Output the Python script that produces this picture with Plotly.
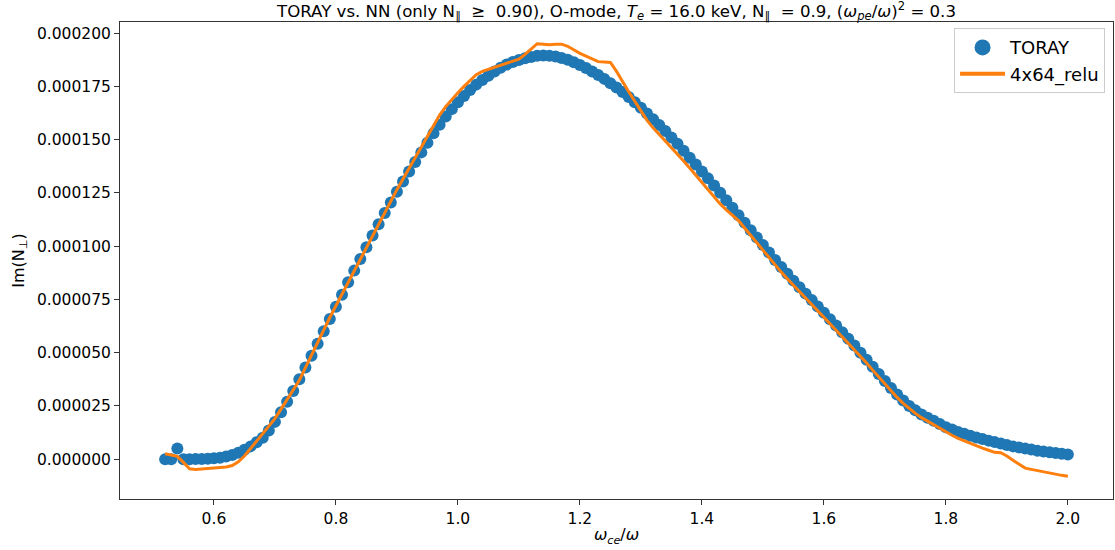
import numpy as np
import plotly.graph_objects as go

# omega_ce/omega grid (0.52 .. 2.00, step 0.01)
x_vals = np.round(0.52 + 0.01 * np.arange(149), 2)

# Im(N_perp) in units of 1e-5
toray_e5 = [
    0.0, 0.0, 0.5, 0.0, 0.0, 0.01, 0.01, 0.02,                      # 0.52-0.59
    0.04, 0.07, 0.12, 0.2, 0.3, 0.44, 0.6, 0.79, 1.0, 1.35,         # 0.60-0.69
    1.75, 2.2, 2.7, 3.2, 3.75, 4.3, 4.85, 5.42, 6.0, 6.58,          # 0.70-0.79
    7.15, 7.72, 8.3, 8.85, 9.4, 9.95, 10.5, 11.03, 11.55, 12.05,    # 0.80-0.89
    12.55, 13.03, 13.5, 13.95, 14.4, 14.85, 15.3, 15.7, 16.08, 16.43,  # 0.90-0.99
    16.75, 17.05, 17.33, 17.58, 17.8, 18.0, 18.2, 18.37, 18.52, 18.64,  # 1.00-1.09
    18.74, 18.82, 18.88, 18.93, 18.95, 18.94, 18.9, 18.83, 18.75, 18.63,  # 1.10-1.19
    18.5, 18.36, 18.2, 18.03, 17.85, 17.65, 17.45, 17.23, 17.0, 16.75,  # 1.20-1.29
    16.5, 16.23, 15.95, 15.68, 15.4, 15.1, 14.8, 14.48, 14.15, 13.83,   # 1.30-1.39
    13.5, 13.18, 12.85, 12.5, 12.15, 11.8, 11.45, 11.1, 10.75, 10.4,    # 1.40-1.49
    10.05, 9.7, 9.35, 9.02, 8.7, 8.38, 8.07, 7.77, 7.47, 7.17,          # 1.50-1.59
    6.87, 6.57, 6.27, 5.96, 5.65, 5.33, 5.0, 4.67, 4.34, 4.0,           # 1.60-1.69
    3.67, 3.34, 3.03, 2.75, 2.5, 2.29, 2.1, 1.94, 1.8, 1.65,            # 1.70-1.79
    1.5, 1.39, 1.28, 1.19, 1.1, 1.02, 0.95, 0.87, 0.8, 0.73,            # 1.80-1.89
    0.66, 0.6, 0.55, 0.5, 0.45, 0.4, 0.36, 0.32, 0.29, 0.25,            # 1.90-1.99
    0.22,                                                               # 2.00
]

nn_e5 = [
    0.25, 0.2, 0.13, -0.15, -0.45, -0.48, -0.46, -0.44,                 # 0.52-0.59
    -0.42, -0.4, -0.37, -0.3, -0.12, 0.15, 0.5, 0.85, 1.2, 1.55,        # 0.60-0.69
    1.9, 2.35, 2.8, 3.25, 3.7, 4.3, 4.9, 5.5, 6.08, 6.65,               # 0.70-0.79
    7.2, 7.75, 8.3, 8.85, 9.4, 9.95, 10.5, 11.05, 11.6, 12.15,          # 0.80-0.89
    12.65, 13.15, 13.65, 14.15, 14.7, 15.2, 15.7, 16.15, 16.55, 16.9,   # 0.90-0.99
    17.2, 17.5, 17.8, 18.05, 18.2, 18.3, 18.4, 18.5, 18.6, 18.7,        # 1.00-1.09
    18.78, 19.0, 19.25, 19.5, 19.48, 19.45, 19.47, 19.48, 19.38, 19.2,  # 1.10-1.19
    19.05, 18.92, 18.78, 18.66, 18.64, 18.62, 18.2, 17.7, 17.25, 16.8,  # 1.20-1.29
    16.35, 15.9, 15.55, 15.25, 14.95, 14.65, 14.33, 14.0, 13.67, 13.33, # 1.30-1.39
    13.0, 12.65, 12.3, 11.98, 11.7, 11.45, 11.2, 10.85, 10.5, 10.15,    # 1.40-1.49
    9.8, 9.45, 9.1, 8.78, 8.47, 8.16, 7.86, 7.56, 7.26, 6.96,           # 1.50-1.59
    6.66, 6.36, 6.06, 5.76, 5.46, 5.15, 4.83, 4.51, 4.18, 3.85,         # 1.60-1.69
    3.52, 3.2, 2.9, 2.62, 2.38, 2.15, 1.95, 1.78, 1.6, 1.43,            # 1.70-1.79
    1.27, 1.12, 0.98, 0.86, 0.74, 0.63, 0.52, 0.42, 0.32, 0.3,          # 1.80-1.89
    0.15, -0.05, -0.25, -0.42, -0.48, -0.54, -0.6, -0.66, -0.71, -0.76, # 1.90-1.99
    -0.8,                                                               # 2.00
]

SCALE = 1e-5
toray = np.array(toray_e5) * SCALE
nn = np.array(nn_e5) * SCALE

x_ticks = [0.6, 0.8, 1.0, 1.2, 1.4, 1.6, 1.8, 2.0]
y_ticks = [0.0, 0.000025, 0.00005, 0.000075, 0.0001, 0.000125, 0.00015, 0.000175, 0.0002]

FONT = "DejaVu Sans"
BLUE = "#1f77b4"
ORANGE = "#ff7f0e"

fig = go.Figure()
fig.add_trace(go.Scatter(
    x=x_vals, y=toray, mode="markers", name="TORAY", showlegend=False,
    marker=dict(color=BLUE, size=12, line=dict(width=0)),
))
fig.add_trace(go.Scatter(
    x=x_vals, y=nn, mode="lines", name="4x64_relu", showlegend=False,
    line=dict(color=ORANGE, width=3),
))
# legend entries (larger legend marker, as in the reference)
fig.add_trace(go.Scatter(
    x=[None], y=[None], mode="markers", name="TORAY",
    marker=dict(color=BLUE, size=18, line=dict(width=0)),
))
fig.add_trace(go.Scatter(
    x=[None], y=[None], mode="lines", name="4x64_relu",
    line=dict(color=ORANGE, width=4),
))

fig.update_layout(
    width=1115, height=550,
    margin=dict(l=120, r=2, t=22, b=51, autoexpand=False),
    paper_bgcolor="white", plot_bgcolor="white",
    font=dict(family=FONT, size=16, color="black"),
    title=dict(
        text="TORAY vs. NN (only N<sub>∥</sub>  ≥  0.90), O-mode, <i>T<sub>e</sub></i> = 16.0 keV, "
             "N<sub>∥</sub>  = 0.9, (<i>ω<sub>pe</sub></i>/<i>ω</i>)<sup>2</sup> = 0.3",
        font=dict(family=FONT, size=16.6, color="black"),
        x=0.5, xref="paper", xanchor="center",
        y=1 - 11 / 550, yref="container", yanchor="middle",
    ),
    showlegend=True,
    legend=dict(
        x=0.992, y=0.987, xanchor="right", yanchor="top",
        bgcolor="rgba(255,255,255,0.8)", bordercolor="#cccccc", borderwidth=1,
        font=dict(family=FONT, size=18, color="black"),
        itemwidth=45, tracegroupgap=2,
    ),
)

fig.update_xaxes(
    range=[0.446, 2.074], tickvals=x_ticks, ticktext=[f"{v:.1f}" for v in x_ticks],
    showgrid=False, zeroline=False, automargin=False,
    showline=True, linecolor="#333333", linewidth=1, mirror=True,
    ticks="outside", ticklen=5, tickcolor="#333333",
    tickfont=dict(family=FONT, size=15.5, color="black"),
    title=dict(text="<i>ω<sub>ce</sub></i>/<i>ω</i>", font=dict(family=FONT, size=16), standoff=2),
)
fig.update_yaxes(
    range=[-0.0000187, 0.0002052], tickvals=y_ticks, ticktext=[f"{v:.6f}" for v in y_ticks],
    showgrid=False, zeroline=False, automargin=False,
    showline=True, linecolor="#333333", linewidth=1, mirror=True,
    ticks="outside", ticklen=5, tickcolor="#333333",
    tickfont=dict(family=FONT, size=15.5, color="black"),
    title=dict(text="Im(N<sub>⊥</sub>)", font=dict(family=FONT, size=16), standoff=8),
)

fig.write_html(
    "out.html",
    config={"displayModeBar": False},
    post_script="document.body.style.margin='0px';",
)
